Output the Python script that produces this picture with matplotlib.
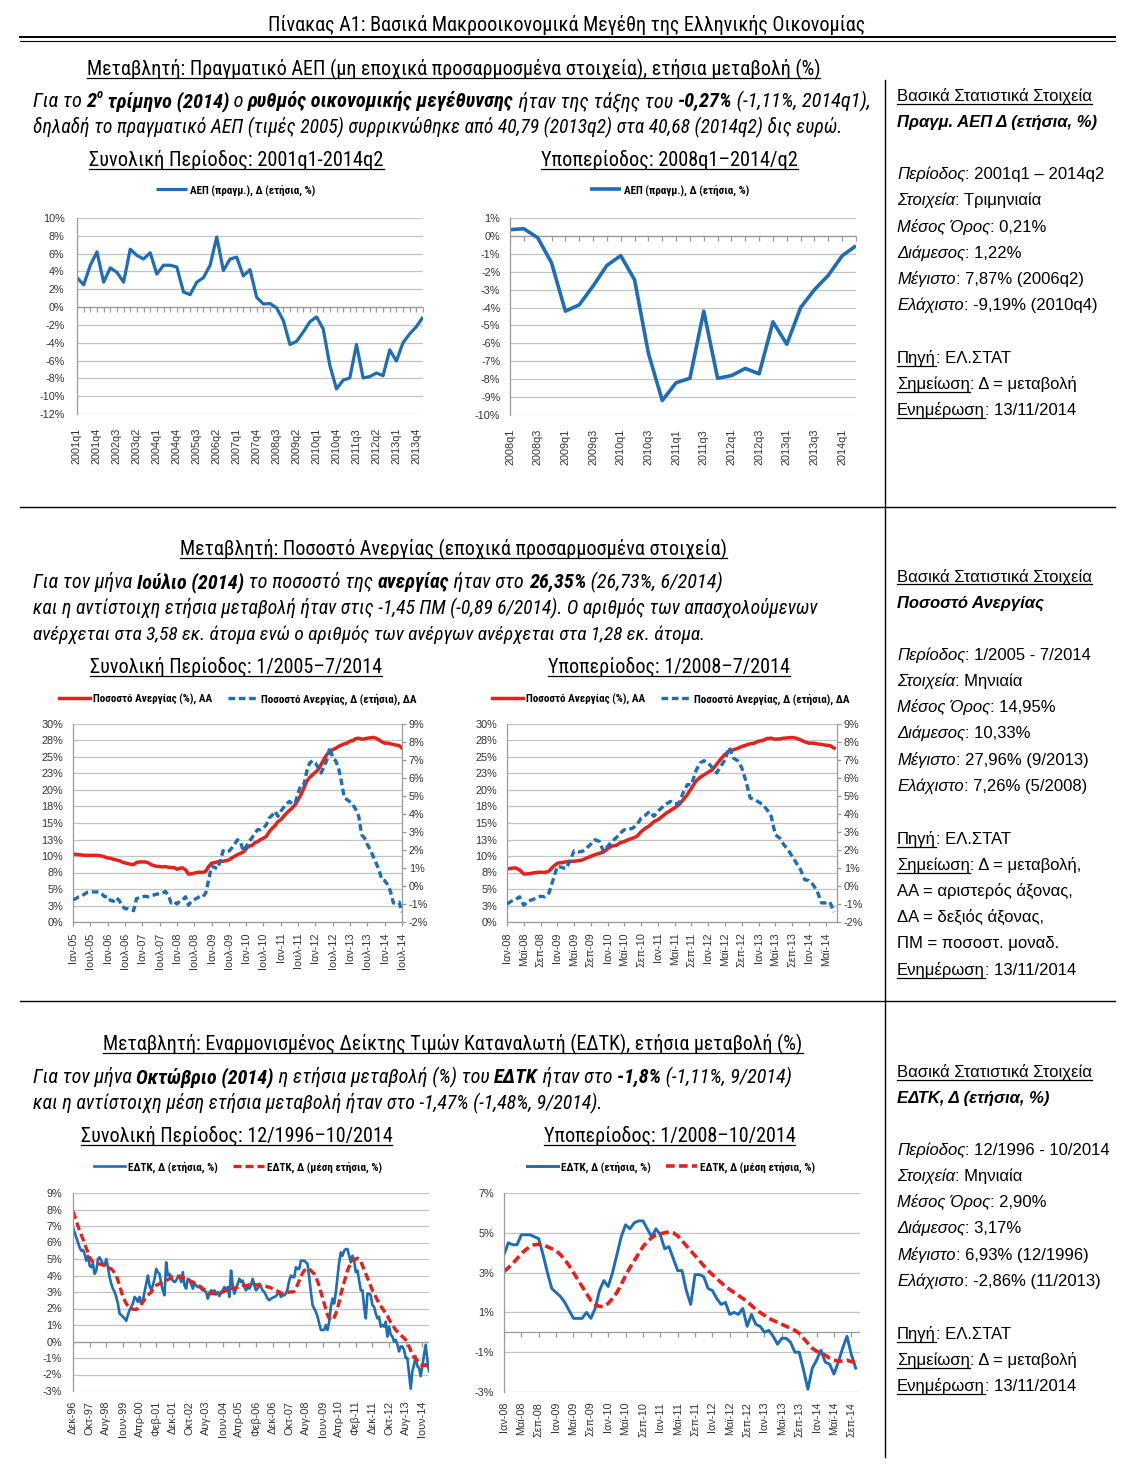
import numpy as np
import matplotlib
matplotlib.use("Agg")
import matplotlib.pyplot as plt
from matplotlib import font_manager
from matplotlib.font_manager import FontProperties
from matplotlib.lines import Line2D

# ---------------- data ----------------
GDP_START = 2001          # quarterly, 2001q1 .. 2014q2
GDP_YOY = [
    3.3, 2.5, 4.7, 6.2,
    2.8, 4.4, 3.9, 2.8,
    6.5, 5.8, 5.4, 6.1,
    3.7, 4.7, 4.7, 4.5,
    1.7, 1.4, 2.8, 3.3,
    4.7, 7.87, 4.1, 5.4,
    5.6, 3.5, 4.2, 1.1,
    0.35, 0.4, -0.1, -1.5,
    -4.2, -3.85, -2.8, -1.65,
    -1.1, -2.45, -6.55, -9.19,
    -8.2, -7.95, -4.2, -7.95,
    -7.8, -7.4, -7.7, -4.8,
    -6.05, -4.0, -3.0, -2.2,
    -1.11, -0.55,
]
GDP_ALL_N = 53            # full-period chart runs to 2014q1
GDP_SUB_FROM = 28         # 2008q1

MONTHS = ["Ιαν", "Φεβ", "Μαρ", "Απρ", "Μαϊ", "Ιουν", "Ιουλ", "Αυγ", "Σεπ", "Οκτ", "Νοε", "Δεκ"]

UNEMP_START = (2005, 1)   # monthly, 1/2005 .. 7/2014
UNEMP_RATE = [
    10.3, 10.25, 10.2, 10.15, 10.1, 10.1, 10.1, 10.1, 10.1, 10.05, 10.0, 9.85,
    9.7, 9.65, 9.5, 9.4, 9.3, 9.1, 8.95, 8.85, 8.75, 8.7, 9.0, 9.1,
    9.1, 9.1, 9.0, 8.7, 8.55, 8.45, 8.4, 8.35, 8.4, 8.3, 8.25, 8.25,
    8.0, 8.15, 8.2, 7.9, 7.26, 7.3, 7.4, 7.5, 7.55, 7.5, 7.7, 8.4,
    8.9, 9.0, 9.1, 9.2, 9.2, 9.3, 9.4, 9.7, 9.95, 10.2, 10.4, 10.6,
    11.1, 11.5, 11.6, 12.0, 12.2, 12.5, 12.7, 13.0, 13.7, 14.2, 14.6, 15.2,
    15.5, 16.0, 16.5, 16.9, 17.3, 17.8, 18.5, 19.3, 20.3, 21.3, 21.9, 22.3,
    22.7, 23.1, 23.9, 24.7, 25.4, 25.9, 26.1, 26.3, 26.6, 26.8, 27.0, 27.1,
    27.4, 27.5, 27.8, 27.85, 27.7, 27.75, 27.85, 27.9, 27.96, 27.85, 27.6, 27.3,
    27.1, 27.1, 27.0, 26.9, 26.8, 26.73, 26.35,
]
UNEMP_CHG = [
    -0.76, -0.7, -0.6, -0.55, -0.45, -0.35, -0.33, -0.33, -0.33, -0.33, -0.45, -0.6,
    -0.57, -0.8, -0.85, -0.65, -0.8, -1.1, -1.26, -1.26, -1.3, -1.37, -0.7, -0.65,
    -0.6, -0.57, -0.6, -0.55, -0.5, -0.45, -0.44, -0.4, -0.3, -0.5, -0.94, -0.85,
    -1.0, -0.85, -0.76, -0.6, -1.07, -0.85, -0.76, -0.67, -0.57, -0.6, -0.39, 0.35,
    1.09, 1.04, 0.96, 1.37, 1.96, 1.89, 1.93, 2.11, 2.33, 2.57, 2.48, 1.93,
    2.2, 2.48, 2.67, 2.94, 3.13, 3.13, 3.22, 3.41, 3.78, 3.93, 4.15, 3.87,
    4.15, 4.37, 4.56, 4.7, 4.56, 4.61, 5.17, 5.63, 5.63, 6.37, 6.83, 6.96,
    6.83, 6.56, 6.28, 6.65, 7.02, 7.7, 7.11, 6.96, 6.56, 5.81, 4.89, 4.8,
    4.67, 4.52, 4.24, 3.87, 2.85, 2.67, 2.3, 2.02, 1.65, 1.28, 0.91, 0.35,
    0.3, 0.07, -0.3, -0.94, -0.94, -0.89, -1.45,
]
UNEMP_SUB_FROM = 36       # 1/2008

HICP_START = (1996, 12)   # monthly, 12/1996 .. 10/2014
HICP_YOY = [
    6.93,
    6.6, 6.3, 6.0, 5.7, 5.5, 5.55, 5.3, 4.9, 5.2, 4.6, 4.5, 4.7,
    4.1, 4.3, 5.0, 5.1, 4.9, 4.7, 4.6, 5.0, 4.5, 3.9, 3.5, 3.2,
    3.0, 2.7, 2.3, 1.7, 1.6, 1.5, 1.4, 1.25, 1.6, 1.9, 2.1, 2.3,
    2.7, 2.6, 2.4, 2.7, 2.3, 2.5, 3.0, 3.5, 4.0, 3.4, 3.1, 3.4,
    3.8, 4.4, 4.2, 4.1, 3.5, 3.1, 2.8, 4.8, 4.0, 4.1, 3.8, 3.7,
    3.6, 3.7, 3.9, 4.0, 3.6, 4.2, 3.4, 3.2, 3.8, 3.7, 3.5, 3.2,
    3.5, 3.4, 3.3, 3.3, 3.2, 3.1, 3.1, 3.0, 2.6, 2.9, 3.1, 3.0,
    3.1, 2.85, 3.0, 2.75, 3.0, 3.1, 3.3, 3.1, 3.3, 2.7, 4.3, 3.4,
    2.9, 3.2, 3.5, 3.8, 3.6, 3.7, 3.3, 3.1, 3.3, 3.2, 3.4, 3.8,
    3.4, 3.1, 3.2, 3.5, 3.3, 3.1, 3.0, 2.8, 2.6, 2.5, 2.6, 2.65,
    2.7, 2.75, 2.9, 3.0, 2.7, 2.8, 2.8, 2.9, 3.2, 3.7, 4.0, 3.9,
    3.9, 4.5, 4.4, 4.4, 4.9, 4.9, 4.9, 4.8, 4.7, 3.9, 3.0, 2.2,
    2.0, 1.8, 1.5, 1.1, 0.7, 0.7, 0.7, 1.0, 0.7, 1.2, 2.1, 2.6,
    2.3, 3.0, 3.9, 4.8, 5.4, 5.2, 5.5, 5.6, 5.6, 5.2, 4.8, 5.2,
    4.9, 4.2, 4.3, 3.7, 3.1, 3.1, 2.1, 1.4, 2.9, 2.9, 2.8, 2.2,
    2.1, 1.7, 1.4, 1.5, 0.9, 1.0, 0.9, 1.2, 0.3, 0.9, 0.4, 0.3,
    0.0, 0.1, -0.2, -0.6, -0.3, -0.3, -0.5, -1.0, -1.0, -1.9, -2.86, -1.8,
    -1.4, -0.9, -1.5, -1.6, -2.1, -1.5, -0.8, -0.2, -1.11, -1.8,
]
HICP_AVG = [
    7.9,
    7.6, 7.3, 7.0, 6.7, 6.45, 6.2, 5.9, 5.65, 5.4, 5.1, 4.95, 4.8,
    4.75, 4.7, 4.7, 4.7, 4.65, 4.65, 4.6, 4.55, 4.5, 4.45, 4.4, 4.3,
    4.15, 4.0, 3.7, 3.4, 3.05, 2.7, 2.5, 2.3, 2.15, 2.05, 2.0, 1.95,
    1.95, 1.95, 2.0, 2.1, 2.25, 2.4, 2.55, 2.7, 2.8, 2.9, 3.0, 3.15,
    3.3, 3.4, 3.45, 3.5, 3.55, 3.6, 3.65, 3.7, 3.75, 3.8, 3.85, 3.95,
    3.95, 3.95, 3.95, 3.9, 3.9, 3.9, 3.85, 3.8, 3.75, 3.7, 3.65, 3.6,
    3.55, 3.5, 3.4, 3.35, 3.3, 3.2, 3.15, 3.1, 3.0, 2.95, 2.9, 2.9,
    2.9, 2.9, 2.9, 2.95, 2.95, 3.0, 3.05, 3.1, 3.1, 3.15, 3.2, 3.2,
    3.25, 3.25, 3.3, 3.35, 3.4, 3.4, 3.4, 3.4, 3.4, 3.45, 3.45, 3.45,
    3.45, 3.45, 3.4, 3.4, 3.4, 3.4, 3.35, 3.35, 3.3, 3.3, 3.25, 3.2,
    3.15, 3.1, 3.05, 3.0, 2.95, 2.9, 2.9, 2.9, 2.95, 3.0, 3.0, 3.0,
    3.05, 3.25, 3.45, 3.7, 3.95, 4.15, 4.3, 4.4, 4.42, 4.4, 4.3, 4.2,
    4.1, 3.9, 3.65, 3.35, 3.0, 2.65, 2.3, 1.95, 1.6, 1.4, 1.3, 1.3,
    1.45, 1.7, 2.0, 2.4, 2.85, 3.25, 3.6, 3.95, 4.3, 4.55, 4.75, 4.9,
    4.95, 5.0, 5.05, 5.0, 4.85, 4.6, 4.35, 4.1, 3.85, 3.6, 3.35, 3.1,
    2.9, 2.7, 2.5, 2.3, 2.15, 2.0, 1.85, 1.7, 1.55, 1.35, 1.15, 1.0,
    0.85, 0.7, 0.6, 0.5, 0.4, 0.3, 0.2, 0.1, -0.05, -0.3, -0.55, -0.8,
    -0.95, -1.05, -1.15, -1.3, -1.4, -1.45, -1.45, -1.4, -1.48, -1.47,
]
HICP_SUB_FROM = 133       # 1/2008

assert len(GDP_YOY) == 54 and len(UNEMP_RATE) == 115 and len(UNEMP_CHG) == 115
assert len(HICP_YOY) == 215 and len(HICP_AVG) == 215

GDP_ALL_TICKS = list(range(-12, 11, 2))
GDP_SUB_TICKS = list(range(-10, 2))
UNEMP_LEFT_TICKS = [0, 2.5, 5, 7.5, 10, 12.5, 15, 17.5, 20, 22.5, 25, 27.5, 30]
UNEMP_LEFT_LABELS = ["0%", "3%", "5%", "8%", "10%", "13%", "15%", "18%", "20%", "23%", "25%", "28%", "30%"]
UNEMP_RIGHT_TICKS = list(range(-2, 10))
HICP_ALL_TICKS = list(range(-3, 10))
HICP_SUB_TICKS = [-3, -1, 1, 3, 5, 7]

GDP_LEGEND = "ΑΕΠ (πραγμ.), Δ (ετήσια, %)"
UNEMP_LEGEND = ["Ποσοστό Ανεργίας (%), ΑΑ", "Ποσοστό Ανεργίας, Δ (ετήσια), ΔΑ"]
HICP_LEGEND = ["ΕΔΤΚ, Δ (ετήσια, %)", "ΕΔΤΚ, Δ (μέση ετήσια, %)"]

# ---------------- look ----------------
names = {f.name for f in font_manager.fontManager.ttflist}
NARROW = "Liberation Sans"
for cand in ("Liberation Sans Narrow", "DejaVu Sans Condensed", "Roboto Condensed", "Open Sans Condensed"):
    if cand in names:
        NARROW = cand
        break
REG = "Liberation Sans"
plt.rcParams["font.family"] = [REG, "DejaVu Sans"]

BLUE = "#1f6db4"
RED = "#e8201c"
GRID = "#c3c3c3"
AXC = "#9a9a9a"
TXT = "#333333"

W, H = 1122, 1482
fig = plt.figure(figsize=(W / 100, H / 100), dpi=100)
R = fig.canvas.get_renderer()


def fp(fam, size, bold=False, italic=False):
    return FontProperties(family=[fam, "DejaVu Sans"], size=size,
                          weight="bold" if bold else "normal",
                          style="italic" if italic else "normal")


def adv(s, prop):
    w1 = R.get_text_width_height_descent("|" + s + "|", prop, ismath=False)[0]
    w0 = R.get_text_width_height_descent("||", prop, ismath=False)[0]
    return w1 - w0


def part_prop(fam, size, flags):
    return fp(fam, size * (0.62 if "s" in flags else 1), "b" in flags, "i" in flags)


def measure(parts, fam, size):
    return sum(adv(t, part_prop(fam, size, f)) for t, f in parts)


def runs(x, y, parts, size, fam=NARROW, width=None, align="left", ul_all=False):
    '''Draw mixed-style text pieces on one baseline (pixel coords)'''
    if width:
        for _ in range(2):
            size = size * width / measure(parts, fam, size)
    total = measure(parts, fam, size)
    if align == "center":
        x -= total / 2
    cur = x
    for t, f in parts:
        prop = part_prop(fam, size, f)
        a = adv(t, prop)
        lift = size * 0.42 * 100 / 72 if "s" in f else 0
        fig.text(cur / W, 1 - (y - lift) / H, t, fontproperties=prop,
                 va="baseline", ha="left", color="black")
        if "u" in f or ul_all:
            fig.add_artist(Line2D([cur / W, (cur + a) / W], [1 - (y + 2.5) / H] * 2,
                                  lw=0.9, color="black"))
        cur += a
    return size


def hline(y, x0, x1, lw=1.0):
    fig.add_artist(Line2D([x0 / W, x1 / W], [1 - y / H] * 2, color="black", lw=lw))


def vline(x, y0, y1, lw=1.0):
    fig.add_artist(Line2D([x / W] * 2, [1 - y0 / H, 1 - y1 / H], color="black", lw=lw))


def qlabel(i, start):
    return f"{start + i // 4}q{i % 4 + 1}"


def mlabel(k, start):
    mm = start[1] - 1 + k
    return f"{MONTHS[mm % 12]}-{(start[0] + mm // 12) % 100:02d}"


def base_axes(box, ylim, yticks, ylabels, ypad, xpad):
    x0, y0, x1, y1 = box
    ax = fig.add_axes([x0 / W, 1 - y1 / H, (x1 - x0) / W, (y1 - y0) / H])
    ax.set_ylim(*ylim)
    ax.set_yticks(yticks)
    ax.set_yticklabels(ylabels)
    ax.yaxis.grid(True, color=GRID, lw=0.9)
    ax.set_axisbelow(True)
    for s in ("top", "right", "bottom"):
        ax.spines[s].set_visible(False)
    ax.spines["left"].set_color(AXC)
    ax.spines["left"].set_linewidth(0.9)
    ax.tick_params(axis="y", length=0, pad=ypad, labelsize=7.8, labelcolor=TXT)
    ax.tick_params(axis="x", length=0, pad=xpad, labelsize=7.8, labelcolor=TXT, labelrotation=90)
    return ax


def zero_axis(ax, xs):
    ax.axhline(0, color=AXC, lw=0.9, zorder=1)
    ax.plot(xs, np.zeros(len(xs)), ls="none", marker=3, ms=3.5, mew=0.9, color=AXC, zorder=1)


def legend(ax, handles, labels, cx, cy):
    ax.legend(handles, labels, loc="center", bbox_to_anchor=(cx / W, 1 - cy / H),
              bbox_transform=fig.transFigure, ncol=len(handles), frameon=False,
              prop=fp(NARROW, 8, bold=True), handlelength=2.8, handletextpad=0.25,
              columnspacing=1.4, borderpad=0, borderaxespad=0)


def panel(x, centers, rows, size):
    for yc, row in zip(centers, rows):
        runs(x, yc + 5, row, size, fam=REG)


# ---------------- frame ----------------
hline(37, 20, 1115, 1.4)
hline(40.5, 20, 1115, 0.8)
hline(507, 20, 1115)
hline(1001, 20, 1115)
vline(885, 80, 1457)

runs(567, 31, [("Πίνακας Α1: Βασικά Μακροοικονομικά Μεγέθη της Ελληνικής Οικονομίας", "")],
     13, width=595, align="center")

PANEL_SIZE = 10.5
PANEL_SIZE = PANEL_SIZE * 196 / measure([("Βασικά Στατιστικά Στοιχεία", "")], REG, PANEL_SIZE)

# ---------------- section 1: GDP ----------------
runs(453.5, 75, [("Μεταβλητή: Πραγματικό ΑΕΠ (μη εποχικά προσαρμοσμένα στοιχεία), ετήσια μεταβολή (%)", "")],
     13, width=737, align="center", ul_all=True)
runs(33, 107, [("Για το ", "i"), ("2", "bi"), ("ο", "bis"), (" τρίμηνο (2014)", "bi"), (" ο ", "i"),
               ("ρυθμός οικονομικής μεγέθυνσης", "bi"), (" ήταν της τάξης του ", "i"),
               ("-0,27%", "bi"), (" (-1,11%, 2014q1),", "i")], 13, width=840)
runs(33, 133, [("δηλαδή το πραγματικό ΑΕΠ (τιμές 2005) συρρικνώθηκε από 40,79 (2013q2) στα 40,68 (2014q2) δις ευρώ.", "i")],
     13, width=810)
runs(236.5, 166, [("Συνολική Περίοδος: 2001q1-2014q2", "")], 13, width=295, align="center", ul_all=True)
runs(669.5, 166, [("Υποπερίοδος: 2008q1–2014/q2", "")], 13, width=257, align="center", ul_all=True)

panel(897, [96, 122, 174, 200, 227, 253, 279, 305, 358, 384, 410], [
    [("Βασικά Στατιστικά Στοιχεία", "u")],
    [("Πραγμ. ΑΕΠ Δ (ετήσια, %)", "bi")],
    [("Περίοδος", "i"), (": 2001q1 – 2014q2", "")],
    [("Στοιχεία", "i"), (": Τριμηνιαία", "")],
    [("Μέσος Όρος", "i"), (": 0,21%", "")],
    [("Διάμεσος", "i"), (": 1,22%", "")],
    [("Μέγιστο", "i"), (": 7,87% (2006q2)", "")],
    [("Ελάχιστο", "i"), (": -9,19% (2010q4)", "")],
    [("Πηγή", "u"), (": ΕΛ.ΣΤΑΤ", "")],
    [("Σημείωση", "u"), (": Δ = μεταβολή", "")],
    [("Ενημέρωση", "u"), (": 13/11/2014", "")],
], PANEL_SIZE)

gdp_all = GDP_YOY[:GDP_ALL_N]
ax1 = base_axes((77, 218, 423, 414), (-12, 10), GDP_ALL_TICKS, [f"{v}%" for v in GDP_ALL_TICKS], 9, 10)
x1 = np.arange(len(gdp_all))
zero_axis(ax1, x1)
h1, = ax1.plot(x1, gdp_all, color=BLUE, lw=2.3, solid_capstyle="butt")
ax1.set_xlim(0, len(gdp_all) - 1)
ax1.set_xticks(x1[::3])
ax1.set_xticklabels([qlabel(i, GDP_START) for i in x1[::3]])
legend(ax1, [h1], [GDP_LEGEND], 236, 190)

gdp_sub = GDP_YOY[GDP_SUB_FROM:]
ax2 = base_axes((510, 218, 856, 415), (-10, 1), GDP_SUB_TICKS, [f"{v}%" for v in GDP_SUB_TICKS], 7, 10)
x2 = np.arange(len(gdp_sub))
zero_axis(ax2, x2)
h2, = ax2.plot(x2, gdp_sub, color=BLUE, lw=2.6, solid_capstyle="butt")
ax2.set_xlim(0, len(gdp_sub) - 1)
ax2.set_xticks(x2[::2])
ax2.set_xticklabels([qlabel(i + GDP_SUB_FROM, GDP_START) for i in x2[::2]])
legend(ax2, [h2], [GDP_LEGEND], 670, 190)

# ---------------- section 2: unemployment ----------------
runs(453, 555, [("Μεταβλητή: Ποσοστό Ανεργίας (εποχικά προσαρμοσμένα στοιχεία)", "")],
     13, width=548, align="center", ul_all=True)
runs(33, 588, [("Για τον μήνα ", "i"), ("Ιούλιο (2014)", "bi"), (" το ποσοστό της ", "i"),
               ("ανεργίας", "bi"), (" ήταν στο ", "i"), ("26,35%", "bi"), (" (26,73%, 6/2014)", "i")],
     13, width=691)
runs(33, 614, [("και η αντίστοιχη ετήσια μεταβολή ήταν στις -1,45 ΠΜ (-0,89 6/2014). Ο αριθμός των απασχολούμενων", "i")],
     13, width=785)
runs(33, 640, [("ανέρχεται στα 3,58 εκ. άτομα ενώ ο αριθμός των ανέργων ανέρχεται στα 1,28 εκ. άτομα.", "i")],
     13, width=675)
runs(236, 673, [("Συνολική Περίοδος: 1/2005–7/2014", "")], 13, width=290, align="center", ul_all=True)
runs(669, 673, [("Υποπερίοδος: 1/2008–7/2014", "")], 13, width=242, align="center", ul_all=True)

panel(897, [577, 603, 655, 681, 707, 733, 760, 786, 839, 865, 891, 917, 943, 970], [
    [("Βασικά Στατιστικά Στοιχεία", "u")],
    [("Ποσοστό Ανεργίας", "bi")],
    [("Περίοδος", "i"), (": 1/2005 - 7/2014", "")],
    [("Στοιχεία", "i"), (": Μηνιαία", "")],
    [("Μέσος Όρος", "i"), (": 14,95%", "")],
    [("Διάμεσος", "i"), (": 10,33%", "")],
    [("Μέγιστο", "i"), (": 27,96% (9/2013)", "")],
    [("Ελάχιστο", "i"), (": 7,26% (5/2008)", "")],
    [("Πηγή", "u"), (": ΕΛ.ΣΤΑΤ", "")],
    [("Σημείωση", "u"), (": Δ = μεταβολή,", "")],
    [("ΑΑ = αριστερός άξονας,", "")],
    [("ΔΑ = δεξιός άξονας,", "")],
    [("ΠΜ = ποσοστ. μοναδ.", "")],
    [("Ενημέρωση", "u"), (": 13/11/2014", "")],
], PANEL_SIZE)


def unemp_chart(box, rate, chg, start_k, step, cx, cy):
    ax = base_axes(box, (0, 30), UNEMP_LEFT_TICKS, UNEMP_LEFT_LABELS, 7, 4.5)
    ax.spines["bottom"].set_visible(True)
    ax.spines["bottom"].set_color(AXC)
    ax.spines["bottom"].set_linewidth(0.9)
    ax.tick_params(axis="x", length=3, width=0.9, color=AXC, direction="out")
    xs = np.arange(len(rate))
    hr, = ax.plot(xs, rate, color=RED, lw=2.5)
    axr = ax.twinx()
    axr.set_ylim(-2, 9)
    axr.set_yticks(UNEMP_RIGHT_TICKS)
    axr.set_yticklabels([f"{v}%" for v in UNEMP_RIGHT_TICKS])
    for s in ("top", "left", "bottom"):
        axr.spines[s].set_visible(False)
    axr.spines["right"].set_color(AXC)
    axr.spines["right"].set_linewidth(0.9)
    axr.tick_params(axis="y", length=3, width=0.9, color=AXC, pad=2, labelsize=7.8, labelcolor=TXT)
    hc, = axr.plot(xs, chg, color=BLUE, lw=2.4, ls=(0, (2.0, 1.1)))
    ax.set_xlim(0, len(rate) - 1 + (0.7 if start_k else 0))
    ax.set_xticks(xs[::step])
    ax.set_xticklabels([mlabel(k + start_k, UNEMP_START) for k in xs[::step]])
    legend(ax, [hr, hc], UNEMP_LEGEND, cx, cy)


unemp_chart((73, 724, 402, 922), UNEMP_RATE, UNEMP_CHG, 0, 6, 238, 699)
unemp_chart((507, 724, 837, 922), UNEMP_RATE[UNEMP_SUB_FROM:], UNEMP_CHG[UNEMP_SUB_FROM:],
            UNEMP_SUB_FROM, 4, 671, 699)

# ---------------- section 3: HICP ----------------
runs(453, 1050, [("Μεταβλητή: Εναρμονισμένος Δείκτης Τιμών Καταναλωτή (ΕΔΤΚ), ετήσια μεταβολή (%)", "")],
     13, width=698, align="center", ul_all=True)
runs(33, 1083, [("Για τον μήνα ", "i"), ("Οκτώβριο (2014)", "bi"), (" η ετήσια μεταβολή (%) του ", "i"),
                ("ΕΔΤΚ", "bi"), (" ήταν στο ", "i"), ("-1,8%", "bi"), (" (-1,11%, 9/2014)", "i")],
     13, width=761)
runs(33, 1109, [("και η αντίστοιχη μέση ετήσια μεταβολή ήταν στο -1,47% (-1,48%, 9/2014).", "i")],
     13, width=569)
runs(236.5, 1142, [("Συνολική Περίοδος: 12/1996–10/2014", "")], 13, width=311, align="center", ul_all=True)
runs(669.5, 1142, [("Υποπερίοδος: 1/2008–10/2014", "")], 13, width=253, align="center", ul_all=True)

panel(897, [1072, 1098, 1150, 1176, 1202, 1228, 1255, 1281, 1334, 1360, 1386], [
    [("Βασικά Στατιστικά Στοιχεία", "u")],
    [("ΕΔΤΚ, Δ (ετήσια, %)", "bi")],
    [("Περίοδος", "i"), (": 12/1996 - 10/2014", "")],
    [("Στοιχεία", "i"), (": Μηνιαία", "")],
    [("Μέσος Όρος", "i"), (": 2,90%", "")],
    [("Διάμεσος", "i"), (": 3,17%", "")],
    [("Μέγιστο", "i"), (": 6,93% (12/1996)", "")],
    [("Ελάχιστο", "i"), (": -2,86% (11/2013)", "")],
    [("Πηγή", "u"), (": ΕΛ.ΣΤΑΤ", "")],
    [("Σημείωση", "u"), (": Δ = μεταβολή", "")],
    [("Ενημέρωση", "u"), (": 13/11/2014", "")],
], PANEL_SIZE)


def hicp_chart(box, ylim, ticks, yoy, avg, start_k, step, lw, xpad_end, cx, cy, ypad):
    ax = base_axes(box, ylim, ticks, [f"{v}%" for v in ticks], ypad, 7)
    xs = np.arange(len(yoy))
    zero_axis(ax, xs[::step])
    hb, = ax.plot(xs, yoy, color=BLUE, lw=lw)
    hr, = ax.plot(xs, avg, color=RED, lw=lw + 0.5, ls=(0, (2.4, 1.2)))
    ax.set_xlim(0, len(yoy) - 1 + xpad_end)
    ax.set_xticks(xs[::step])
    ax.set_xticklabels([mlabel(k + start_k, HICP_START) for k in xs[::step]])
    legend(ax, [hb, hr], HICP_LEGEND, cx, cy)


hicp_chart((73, 1193, 429, 1391), (-3, 9), HICP_ALL_TICKS, HICP_YOY, HICP_AVG, 0, 10, 1.9, 0, 238, 1167, 8)
hicp_chart((504, 1193, 860, 1392), (-3, 7), HICP_SUB_TICKS, HICP_YOY[HICP_SUB_FROM:], HICP_AVG[HICP_SUB_FROM:],
           HICP_SUB_FROM, 4, 2.1, 1, 671, 1167, 7)

fig.savefig("out.png", dpi=100, facecolor="white")
